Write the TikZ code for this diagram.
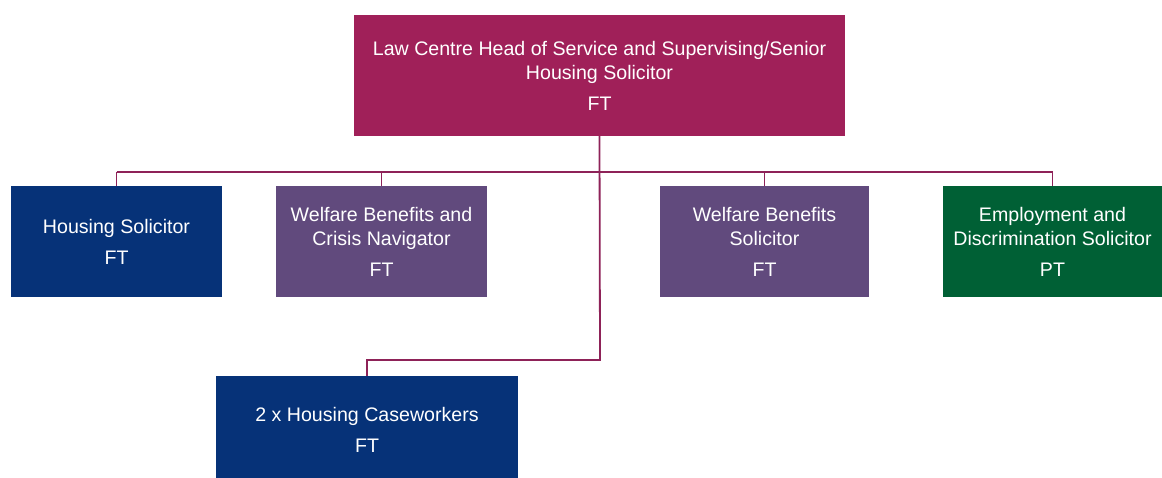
\documentclass[tikz,border=0pt]{standalone}
\usepackage{fontspec}
\setmainfont{Liberation Sans}
\usetikzlibrary{calc}

\definecolor{headred}{RGB}{160,32,89}
\definecolor{linered}{RGB}{142,34,88}
\definecolor{housblue}{RGB}{6,50,120}
\definecolor{welfpurple}{RGB}{97,74,125}
\definecolor{empgreen}{RGB}{0,96,53}

\begin{document}
\begin{tikzpicture}[x=1pt,y=-1pt,
    post/.style={draw=none, text=white, align=center, inner sep=0pt,
        font=\fontsize{19.6}{24}\selectfont, minimum height=111pt},
    link/.style={draw=linered, line width=1.8pt}]

		\useasboundingbox (0,0) rectangle (1162,477);

		\coordinate (bus) at (600,172);
		\coordinate (turn) at (600,360);

		\node [post, fill=headred, minimum width=491pt, minimum height=121pt] (head) at (599.5,75.5)
			{Law Centre Head of Service and Supervising/Senior\\Housing Solicitor\\[7pt]FT};

		\node [post, fill=housblue, minimum width=211pt] (hs) at (116.5,241.5)
			{Housing Solicitor\\[7pt]FT};
		\node [post, fill=welfpurple, minimum width=211pt] (wbc) at (381.5,241.5)
			{Welfare Benefits and\\Crisis Navigator\\[7pt]FT};
		\node [post, fill=welfpurple, minimum width=209pt] (wbs) at (764.5,241.5)
			{Welfare Benefits\\Solicitor\\[7pt]FT};
		\node [post, fill=empgreen, minimum width=219pt] (eds) at (1052.5,241.5)
			{Employment and\\Discrimination Solicitor\\[7pt]PT};

		\node [post, fill=housblue, minimum width=302pt, minimum height=108pt] (cw) at (367,430)
			{2 x Housing Caseworkers\\[7pt]FT};

		% tree lines
		\draw [link] (hs.north |- bus) -- (eds.north |- bus);
		\foreach \n in {hs,wbc,wbs,eds}
			\draw [link] (\n.north) -- (\n.north |- bus);

		\draw [link] (head.south) -- (turn) -| (cw.north);

\end{tikzpicture}
\end{document}
